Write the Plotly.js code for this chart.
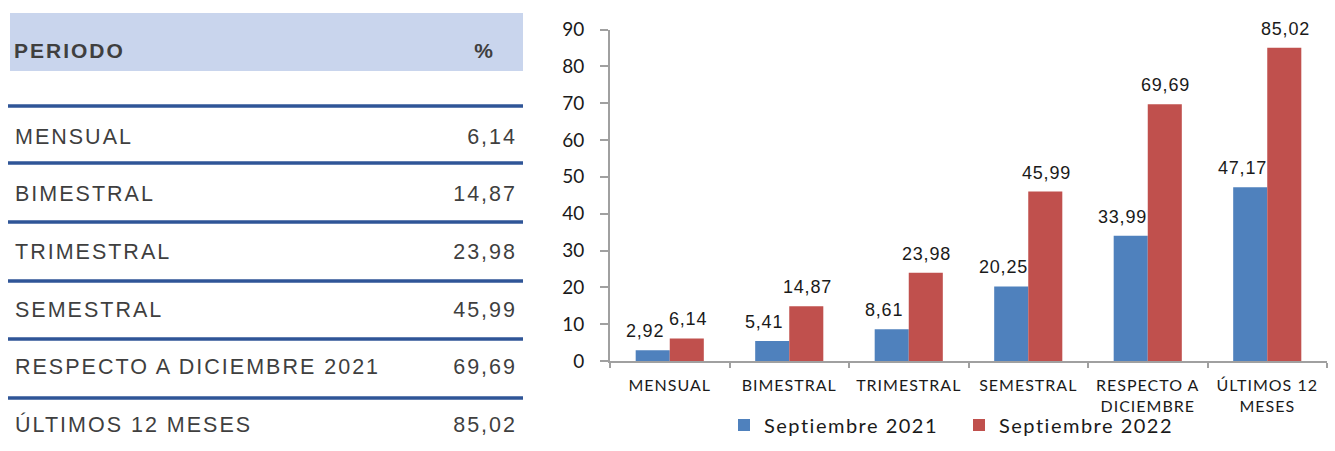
<!DOCTYPE html>
<html>
<head>
<meta charset="utf-8">
<script src="https://cdn.plot.ly/plotly-3.0.1.min.js"></script>
<style>
  html, body { margin: 0; padding: 0; background: #fff; }
  #chart { width: 1335px; height: 451px; }
  .textpoint text { letter-spacing: 2px; }
  .legendtext { letter-spacing: 1.5px; }
  .xtick text { letter-spacing: 1px; }
  .annotation-text { letter-spacing: 0.8px; }
</style>
</head>
<body>
<div id="chart"></div>
<script>
// ---- data ----
const categories = ['MENSUAL', 'BIMESTRAL', 'TRIMESTRAL', 'SEMESTRAL', 'RESPECTO A<br>DICIEMBRE', 'ÚLTIMOS 12<br>MESES'];
const sept2021 = [2.92, 5.41, 8.61, 20.25, 33.99, 47.17];
const sept2022 = [6.14, 14.87, 23.98, 45.99, 69.69, 85.02];
const seriesNames = ['Septiembre 2021', 'Septiembre 2022'];
const tableHeader = ['PERIODO', '%'];
const tableLabels = ['MENSUAL', 'BIMESTRAL', 'TRIMESTRAL', 'SEMESTRAL', 'RESPECTO A DICIEMBRE 2021', 'ÚLTIMOS 12 MESES'];
const tableValues = [6.14, 14.87, 23.98, 45.99, 69.69, 85.02];

// ---- styling ----
const fmt = v => v.toFixed(2).replace('.', ',');
const BLUE = '#4f81bd', RED = '#c0504d';
const TXT = '#3f3f3f';
const W = 1335, H = 451;
const px = x => x / W, py = y => 1 - y / H;
const ARIAL = 'Liberation Sans, Arial, sans-serif';

// table geometry (pixel space of x2/y2)
const rowY0 = 138.5, rowStep = 57.6;
const rowY = tableLabels.map((_, i) => rowY0 + i * rowStep);
const lineY = [106, 163, 222, 281, 339, 398];

const traces = [
  { type: 'bar', name: seriesNames[0], x: categories, y: sept2021, marker: { color: BLUE }, hoverinfo: 'skip' },
  { type: 'bar', name: seriesNames[1], x: categories, y: sept2022, marker: { color: RED }, hoverinfo: 'skip' },
  // table header
  { type: 'scatter', mode: 'text', xaxis: 'x2', yaxis: 'y2', x: [14], y: [53], text: [tableHeader[0]],
    textposition: 'middle right', textfont: { family: ARIAL, size: 21, color: TXT, weight: 700 },
    showlegend: false, hoverinfo: 'skip' },
  { type: 'scatter', mode: 'text', xaxis: 'x2', yaxis: 'y2', x: [495], y: [53], text: [tableHeader[1]],
    textposition: 'middle left', textfont: { family: ARIAL, size: 21, color: TXT, weight: 700 },
    showlegend: false, hoverinfo: 'skip' },
  // table rows
  { type: 'scatter', mode: 'text', xaxis: 'x2', yaxis: 'y2', x: tableLabels.map(() => 15), y: rowY, text: tableLabels,
    textposition: 'middle right', textfont: { family: ARIAL, size: 21.5, color: TXT },
    showlegend: false, hoverinfo: 'skip' },
  { type: 'scatter', mode: 'text', xaxis: 'x2', yaxis: 'y2', x: tableValues.map(() => 517), y: rowY, text: tableValues.map(fmt),
    textposition: 'middle left', textfont: { family: ARIAL, size: 21.5, color: TXT },
    showlegend: false, hoverinfo: 'skip' }
];

const shapes = [
  { type: 'rect', xref: 'x2', yref: 'y2', x0: 10, x1: 523, y0: 13, y1: 71, fillcolor: '#c9d5ed', line: { width: 0 }, layer: 'below' }
].concat(lineY.map(y => ({
  type: 'line', xref: 'x2', yref: 'y2', x0: 8, x1: 523, y0: y, y1: y, line: { color: '#2f5597', width: 3.5 }
})));

const annotations = [];
categories.forEach((c, i) => {
  annotations.push({ x: c, y: sept2021[i], xref: 'x', yref: 'y', text: fmt(sept2021[i]), showarrow: false,
    yanchor: 'bottom', xshift: -25, yshift: 7, font: { family: ARIAL, size: 18, color: '#1a1a1a' } });
  annotations.push({ x: c, y: sept2022[i], xref: 'x', yref: 'y', text: fmt(sept2022[i]), showarrow: false,
    yanchor: 'bottom', xshift: 18, yshift: 7, font: { family: ARIAL, size: 18, color: '#1a1a1a' } });
});

const layout = {
  width: W, height: H,
  margin: { l: 0, r: 0, t: 0, b: 0 },
  paper_bgcolor: '#fff', plot_bgcolor: 'rgba(0,0,0,0)',
  barmode: 'group', bargap: 0.43, bargroupgap: 0,
  showlegend: true,
  legend: { orientation: 'h', x: px(724), xanchor: 'left', y: py(425), yanchor: 'middle',
    font: { family: 'Lato', size: 20, color: '#1a1a1a' }, entrywidth: 190, bgcolor: 'rgba(0,0,0,0)' },
  xaxis: {
    domain: [px(610), px(1327)], type: 'category', showline: true, linecolor: '#a0a0a0', linewidth: 2,
    ticks: 'outside', tickson: 'boundaries', ticklen: 5, tickwidth: 2, tickcolor: '#a0a0a0',
    tickfont: { family: 'Lato', size: 16, color: '#1a1a1a' }, ticklabelstandoff: 9,
    showgrid: false, zeroline: false, fixedrange: true, automargin: false
  },
  yaxis: {
    domain: [py(361), py(29.5)], range: [0, 90], dtick: 10, showline: true, linecolor: '#a0a0a0', linewidth: 2,
    ticks: 'outside', ticklen: 8, tickwidth: 2, tickcolor: '#a0a0a0',
    tickfont: { family: 'Lato', size: 19, color: '#1a1a1a' }, ticklabelstandoff: 12,
    showgrid: false, zeroline: false, fixedrange: true, automargin: false
  },
  xaxis2: { domain: [0, px(560)], range: [0, 560], visible: false, fixedrange: true },
  yaxis2: { domain: [0, 1], range: [H, 0], visible: false, fixedrange: true },
  shapes: shapes,
  annotations: annotations
};

Plotly.newPlot('chart', traces, layout, { displayModeBar: false, staticPlot: true });
</script>
</body>
</html>
